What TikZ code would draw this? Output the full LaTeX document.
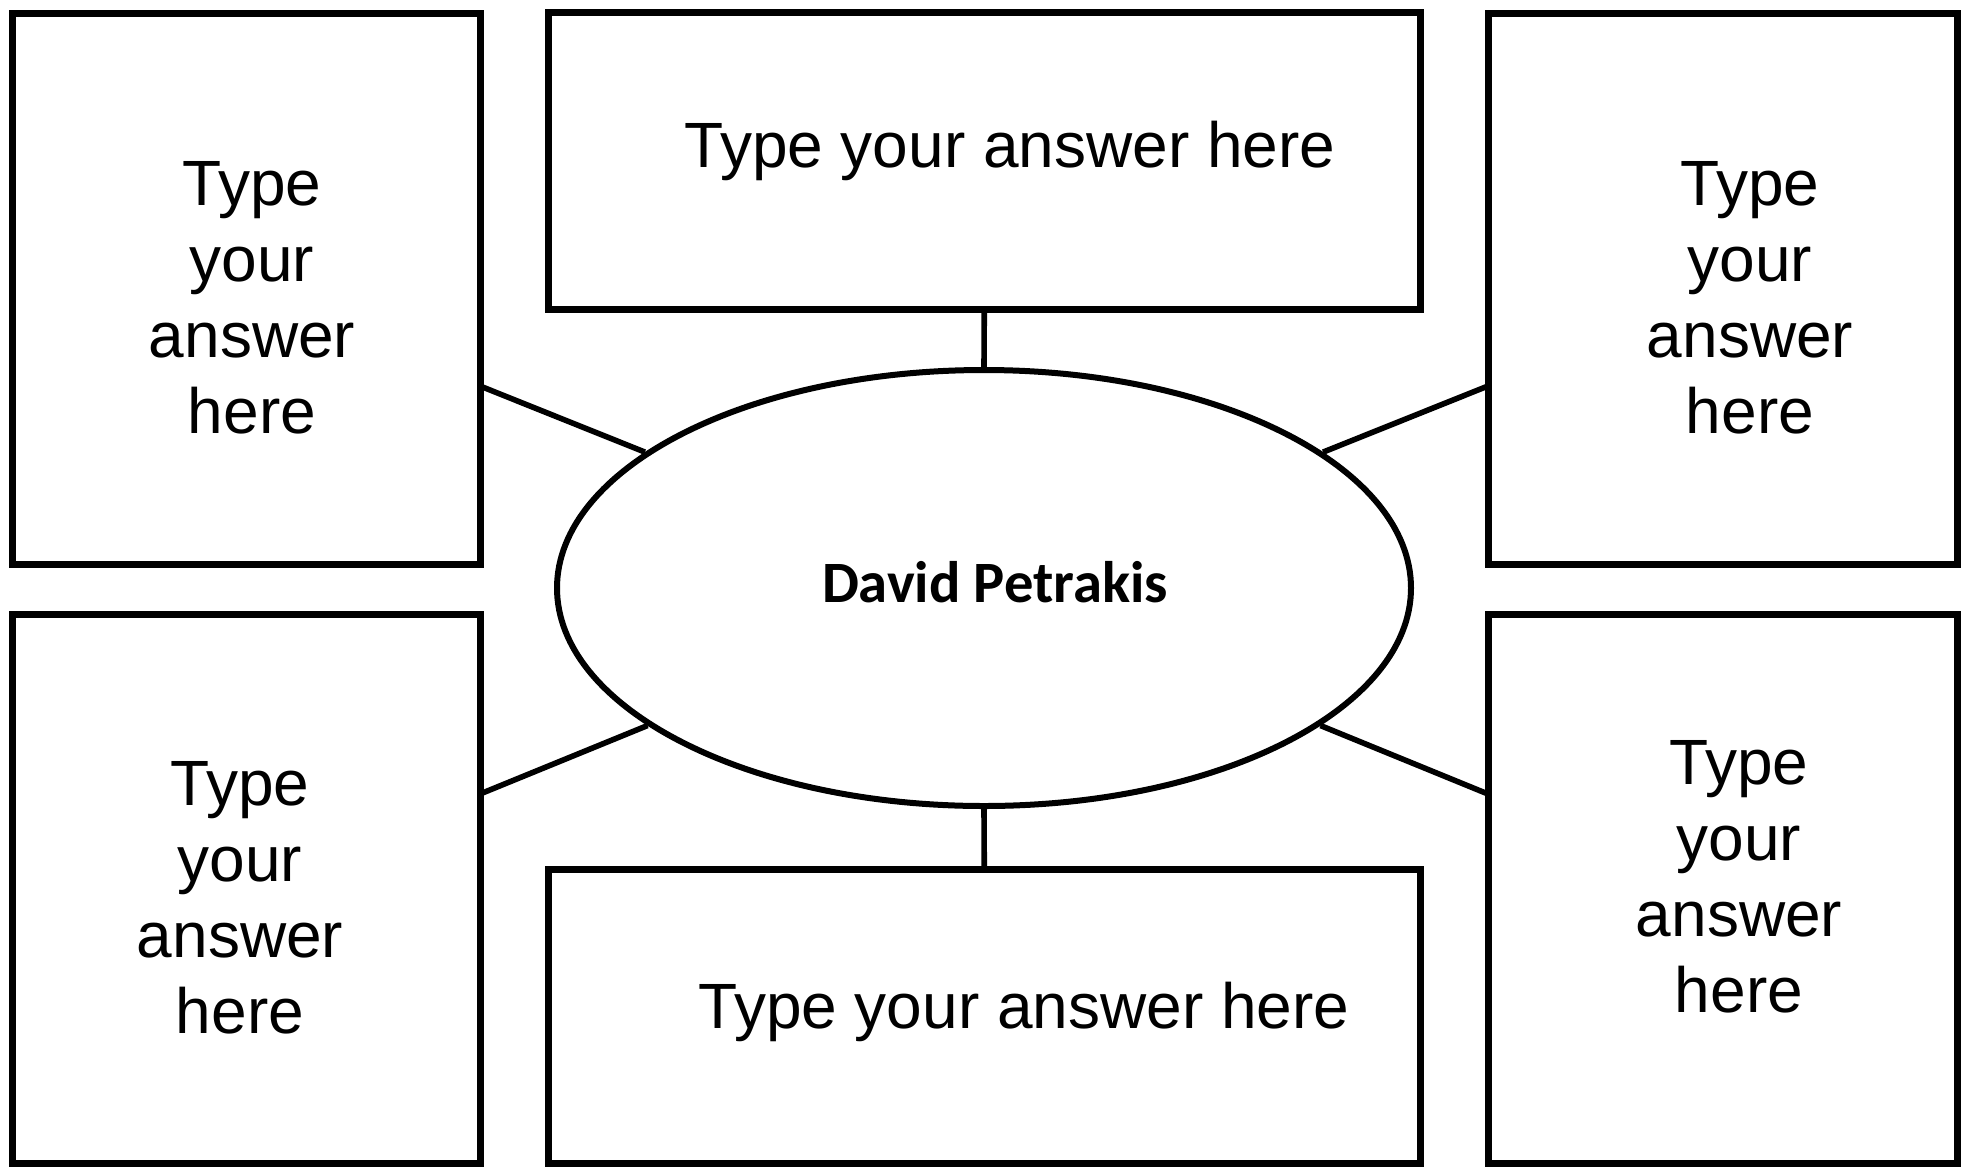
\documentclass[tikz,border=0pt]{standalone}
\usepackage{fontspec}
\setmainfont{Liberation Sans}
\newfontfamily\namefont{Carlito}
\usetikzlibrary{shapes.geometric}
\begin{document}
\begin{tikzpicture}[x=0.5pt,y=-0.5pt,
  answerbox/.style={draw=black, line width=3.5pt, rectangle, inner sep=0pt},
  hub/.style={draw=black, line width=3pt, ellipse, inner sep=0pt},
  conn/.style={draw=black, line width=2.8pt},
  answertext/.style={inner sep=0pt, align=center, font=\fontsize{32}{38}\selectfont},
  nametext/.style={inner sep=0pt, font=\namefont\bfseries\fontsize{29.3}{34}\selectfont}
]
\useasboundingbox[fill=white] (0,0) rectangle (1965,1168);

% boxes
\node[answerbox, minimum width=234pt, minimum height=275.75pt] (LT) at (246,288.75) {};
\node[answerbox, minimum width=435.75pt, minimum height=148.5pt] (TM) at (984.25,160.5) {};
\node[answerbox, minimum width=234.5pt, minimum height=275.75pt] (RT) at (1722.5,288.75) {};
\node[answerbox, minimum width=234pt, minimum height=274.5pt] (LB) at (246,888.5) {};
\node[answerbox, minimum width=435.75pt, minimum height=146.75pt] (BM) at (984.25,1016.25) {};
\node[answerbox, minimum width=234.5pt, minimum height=274.5pt] (RB) at (1722.5,888.5) {};

% central ellipse
\node[hub, minimum width=427pt, minimum height=218pt] (E) at (984,588) {};
\node[nametext, anchor=base] (name) at (995,602) {David Petrakis};

% texts
\node[answertext] (tLT) at (252,297.5) {Type\\your\\answer\\here};
\node[answertext] (tRT) at (1750,297.5) {Type\\your\\answer\\here};
\node[answertext] (tLB) at (240,898) {Type\\your\\answer\\here};
\node[answertext] (tRB) at (1739,877) {Type\\your\\answer\\here};
\node[answertext, anchor=base] (tTM) at (1010,167) {Type your answer here};
\node[answertext, anchor=base] (tBM) at (1024,1028) {Type your answer here};

% connector end points on the boxes
\coordinate (pLT) at (480,386);
\coordinate (pRT) at (1488,386);
\coordinate (pLB) at (480,794);
\coordinate (pRB) at (1488,794);

\draw[conn] (TM.south) -- (E.north);
\draw[conn] (BM.north) -- (E.south);
\draw[conn] (pLT) -- (E);
\draw[conn] (pRT) -- (E);
\draw[conn] (pLB) -- (E);
\draw[conn] (pRB) -- (E);
\end{tikzpicture}
\end{document}
